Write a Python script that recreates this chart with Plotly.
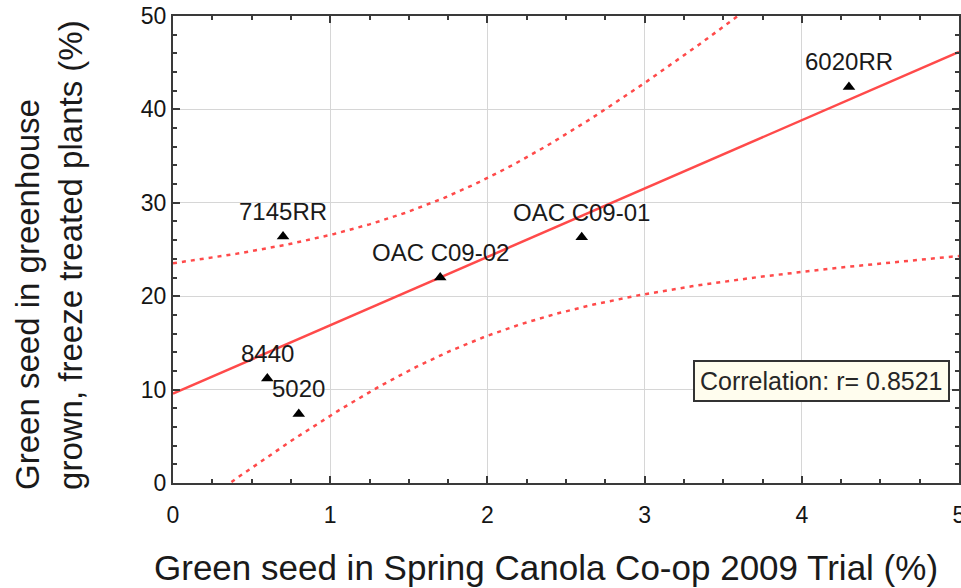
import numpy as np
import plotly.graph_objects as go

# Data
cultivars = ["6020RR", "OAC C09-01", "OAC C09-02", "7145RR", "8440", "5020"]
field_green = [4.3, 2.6, 1.7, 0.7, 0.6, 0.8]          # Spring Canola Co-op 2009 Trial (%)
greenhouse_green = [42.4, 26.3, 22.0, 26.4, 11.2, 7.4]  # greenhouse freeze treated (%)
x_ticks = [0, 1, 2, 3, 4, 5]
y_ticks = [0, 10, 20, 30, 40, 50]
corr_text = "Correlation: r= 0.8521"
x_title = "Green seed in Spring Canola Co-op 2009 Trial (%)"
y_title = "Green seed in greenhouse<br>grown, freeze treated plants (%)"
t_crit = 2.776  # t(0.975, df=4)

x = np.array(field_green)
y = np.array(greenhouse_green)
n = len(x)
slope, intercept = np.polyfit(x, y, 1)
resid = y - (intercept + slope * x)
s = np.sqrt(np.sum(resid ** 2) / (n - 2))
sxx = np.sum((x - x.mean()) ** 2)
xs = np.linspace(0, 5, 201)
yhat = intercept + slope * xs
half = t_crit * s * np.sqrt(1 / n + (xs - x.mean()) ** 2 / sxx)

RED = "#ff4a4a"
FONT = "Liberation Sans, Arial"
fig = go.Figure()
fig.add_trace(go.Scatter(x=xs, y=yhat + half, mode="lines",
                         line=dict(color=RED, width=2.5, dash="4px,5px"), hoverinfo="skip"))
fig.add_trace(go.Scatter(x=xs, y=yhat - half, mode="lines",
                         line=dict(color=RED, width=2.5, dash="4px,5px"), hoverinfo="skip"))
fig.add_trace(go.Scatter(x=xs, y=yhat, mode="lines",
                         line=dict(color=RED, width=2.5), hoverinfo="skip"))
fig.add_trace(go.Scatter(x=field_green, y=greenhouse_green, mode="markers",
                         marker=dict(symbol="triangle-up", size=11, color="black"),
                         text=cultivars))

for name, xv, yv in zip(cultivars, field_green, greenhouse_green):
    fig.add_annotation(x=xv, y=yv, text=name, showarrow=False, yshift=25,
                       xanchor="center", yanchor="middle",
                       font=dict(family=FONT, size=24, color="#1a1a1a"))

fig.add_annotation(x=4.945, y=10.9, xref="x", yref="y", text=corr_text, showarrow=False,
                   xanchor="right", yanchor="middle",
                   font=dict(family=FONT, size=25, color="#262626"),
                   bgcolor="#fffdee", bordercolor="#333333", borderwidth=2, borderpad=5)

# axis titles placed as paper annotations to match the reference placement
fig.add_annotation(x=0.4746, y=-0.182, xref="paper", yref="paper", text=x_title,
                   showarrow=False, xanchor="center", yanchor="middle",
                   font=dict(family=FONT, size=35, color="#1a1a1a"))
fig.add_annotation(x=-0.158, y=0.488, xref="paper", yref="paper", text=y_title,
                   showarrow=False, xanchor="center", yanchor="middle", textangle=-90,
                   align="left",
                   font=dict(family=FONT, size=33, color="#1a1a1a"))

axis_common = dict(
    showgrid=True, gridcolor="#d6d6d6", gridwidth=1,
    showline=True, linecolor="#3a3a3a", linewidth=2, mirror="allticks",
    ticks="inside", ticklen=7, tickwidth=1.5, tickcolor="#3a3a3a",
    zeroline=False, automargin=False, ticklabeloverflow="allow",
    tickfont=dict(family=FONT, size=23, color="#151515"),
)
fig.update_xaxes(range=[0, 5], tickvals=x_ticks, ticktext=[str(v) for v in x_ticks],
                 minor=dict(dtick=0.25, ticks="inside", ticklen=4, tickcolor="#3a3a3a", showgrid=False),
                 ticklabelstandoff=10,
                 **axis_common)
fig.update_yaxes(range=[0, 50], tickvals=y_ticks, ticktext=[str(v) for v in y_ticks],
                 minor=dict(dtick=2, ticks="inside", ticklen=4, tickcolor="#3a3a3a", showgrid=False),
                 ticklabelstandoff=0,
                 **axis_common)

fig.update_layout(width=961, height=588, showlegend=False,
                  margin=dict(l=173, r=2, t=16, b=105),
                  paper_bgcolor="white", plot_bgcolor="white")
# remove the default page margin so the 961x588 figure fills the window exactly
fig.write_html("out.html", config={"displayModeBar": False},
               post_script="document.body.style.margin='0';")
